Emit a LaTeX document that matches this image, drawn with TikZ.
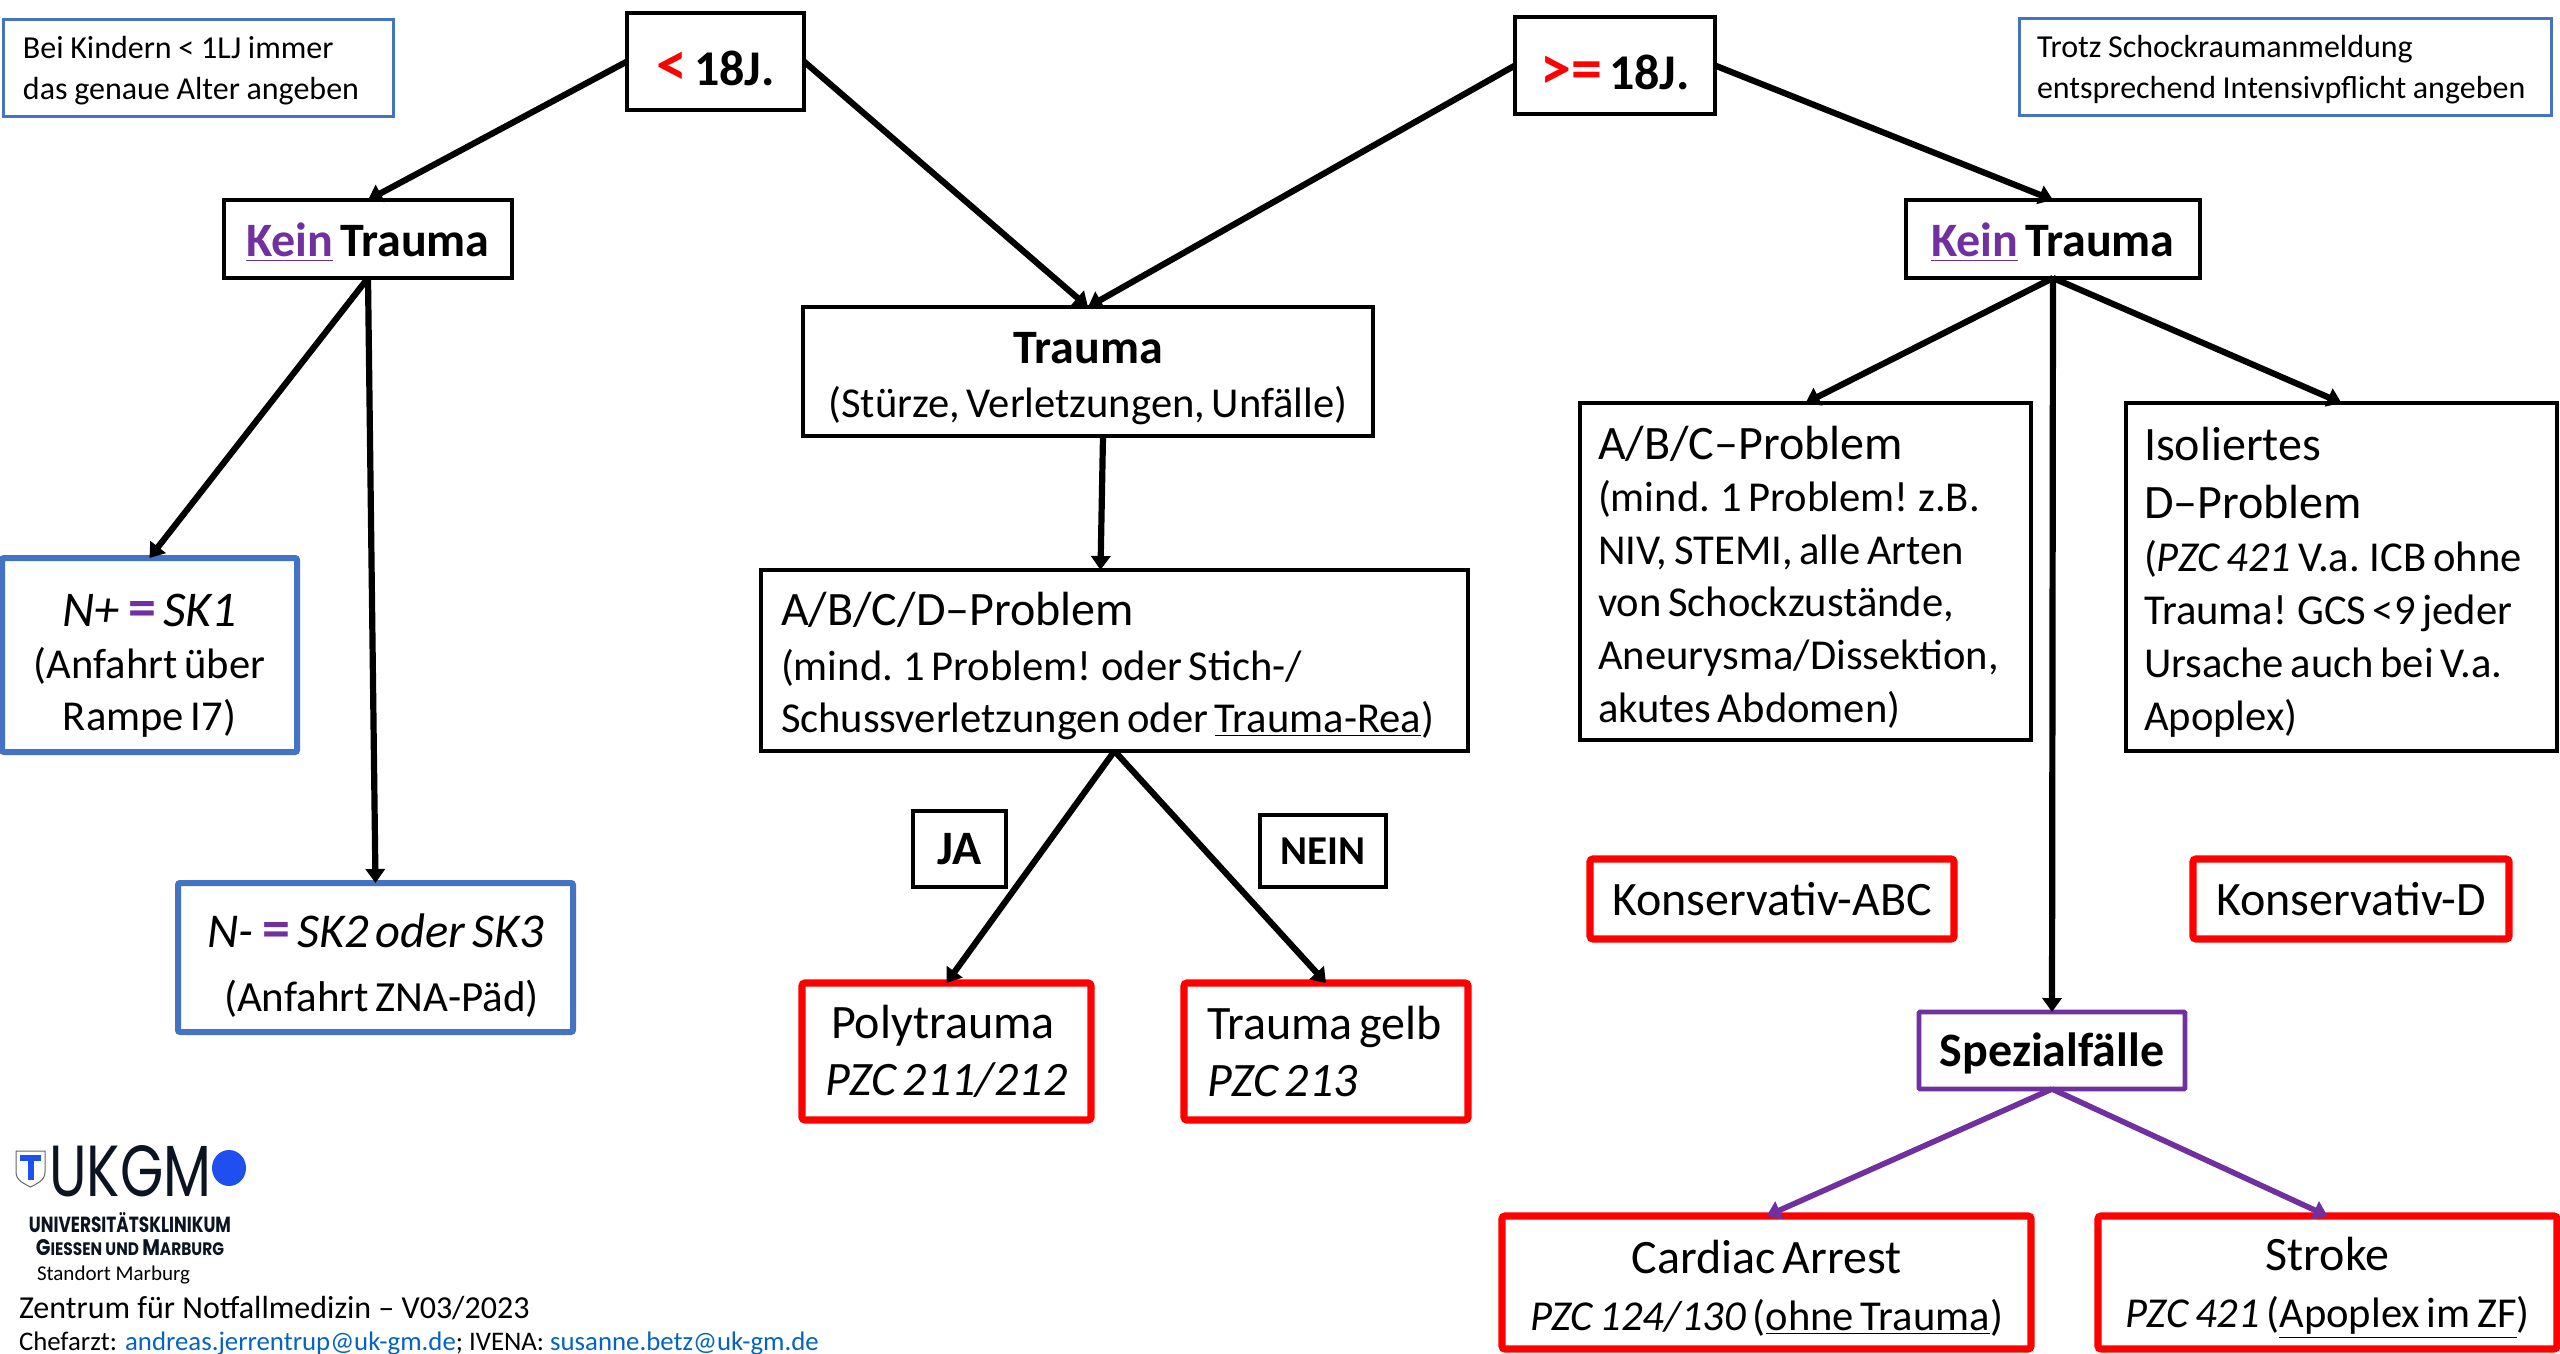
\documentclass[tikz,border=0pt]{standalone}
\usepackage{fontspec}
\setmainfont{Carlito}
\newfontfamily\logofont{Poppins}
\usetikzlibrary{arrows.meta,calc}
\definecolor{bluebox}{HTML}{4472C4}
\definecolor{violet}{HTML}{7030A0}
\definecolor{linkblue}{HTML}{0563C1}
\definecolor{logoblue}{HTML}{1F4FEF}
\definecolor{logoink}{HTML}{0B1420}
\newcommand{\fs}[2]{\fontsize{#1pt}{#2pt}\selectfont}
\newcommand{\kein}{\textcolor{violet}{\underline{Kein}}}
\newcommand{\eqv}{\hspace{4.5pt}\textcolor{violet}{\fontsize{28pt}{28pt}\selectfont\textbf{=}}\hspace{3.5pt}}
\newcommand{\tup}[1]{\rule{0pt}{#1pt}}
\newcommand{\bx}[7][]{%
  \pgfmathsetmacro\cxx{(#3+#5)/2}\pgfmathsetmacro\cyy{(#4+#6)/2}%
  \pgfmathsetmacro\ww{(#5-#3)*0.5}\pgfmathsetmacro\hh{(#6-#4)*0.5}%
  \node[minimum width=\ww pt,minimum height=\hh pt,text width=\ww pt,#1] (#2) at (\cxx,\cyy) {#7\par};}
\tikzset{
  x=0.5pt,y=-0.5pt,
  basebox/.style={inner sep=0pt,outer sep=0pt,fill=white,align=center},
  blackthick/.style={basebox,draw=black,line width=2.4pt},
  blackthin/.style={basebox,draw=black,line width=2pt},
  bluethin/.style={basebox,draw=bluebox,line width=1.5pt},
  bluethick/.style={basebox,draw=bluebox,line width=3pt,rounded corners=1pt},
  redbox/.style={basebox,draw=red,line width=3.6pt,rounded corners=1.5pt},
  purplebox/.style={basebox,draw=violet,line width=2.4pt,rounded corners=0.5pt},
  leftbox/.style={align=left},
  conn/.style={draw=black,line width=3.1pt,-{Triangle[length=7pt,width=9.5pt]}},
  connp/.style={draw=violet,line width=2.8pt,-{Triangle[length=7pt,width=9.5pt]}},
  plain/.style={inner sep=0pt,outer sep=0pt,anchor=west},
}
\begin{document}
\begin{tikzpicture}
\useasboundingbox (0,0) rectangle (2560,1354);

% notes
\bx[bluethin,leftbox]{noteL}{3}{20}{393}{117}
  {\leftskip=10pt\fs{16}{20.5}\tup{13}Bei Kindern < 1LJ immer\\das genaue Alter angeben}
\bx[bluethin,leftbox]{noteR}{2019}{19}{2551}{116}
  {\leftskip=9pt\fs{16}{20.5}\tup{13}Trotz Schockraumanmeldung\\entsprechend Intensivpflicht angeben}

% top
\bx[blackthick]{young}{627}{13}{804}{110}
  {\fs{25}{30}\bfseries\tup{24}\textcolor{red}{\fontsize{31pt}{30pt}\selectfont <} 18J.}
\bx[blackthick]{adult}{1515}{17}{1715}{114}
  {\fs{25}{30}\bfseries\tup{24}\textcolor{red}{\fontsize{31pt}{30pt}\selectfont >=} 18J.}
\bx[blackthick]{keinL}{224}{200}{512}{278}
  {\fs{24}{29}\bfseries\tup{20}\kein{} Trauma}
\bx[blackthick]{keinR}{1906}{200}{2200}{278}
  {\fs{24}{29}\bfseries\tup{20}\kein{} Trauma}

% middle column
\bx[blackthin]{trauma}{803}{307}{1373}{436}
  {\fs{24}{27}\tup{23}\textbf{Trauma}\\\fs{21.3}{27}(Stürze, Verletzungen, Unfälle)}
\bx[blackthin,leftbox]{abcd}{761}{570}{1468}{751}
  {\leftskip=10pt\fs{24}{28}\tup{22}A/B/C/D–Problem\\[1.5pt]\fs{21.3}{26}(mind. 1 Problem! oder Stich-/\\Schussverletzungen oder \underline{Trauma-Rea})}
\bx[blackthin]{ja}{913}{811}{1006}{887}{\fs{24}{26}\textbf{JA}}
\bx[blackthin]{nein}{1260}{815}{1386}{887}{\fs{20.5}{26}\textbf{NEIN}}
\bx[redbox,leftbox]{poly}{802}{983}{1091}{1120}
  {\leftskip=11.5pt\fs{24}{28.5}\hspace*{3pt}Polytrauma\\\textit{PZC 211/212}}
\bx[redbox,leftbox]{gelb}{1184}{983}{1468}{1120}
  {\leftskip=11.5pt\fs{24}{28.5}Trauma gelb\\\textit{PZC 213}}

% left column
\bx[bluethick]{nplus}{2}{558}{297}{752}
  {\fs{25}{30}\tup{27}\textit{N+}\eqv\textit{SK1}\\\fs{21.3}{26}(Anfahrt über\\Rampe I7)}
\bx[bluethick]{nminus}{178}{883}{573}{1032}
  {\fs{24.3}{30}\tup{25}\textit{N-}\eqv\textit{SK2 oder SK3}\\\fs{21.5}{32}\hspace*{6pt}(Anfahrt ZNA-Päd)}

% right column
\bx[blackthin,leftbox]{abc}{1580}{403}{2031}{740}
  {\leftskip=9pt\fs{24}{28}\tup{22}A/B/C–Problem\\\fs{21.3}{26.3}(mind. 1 Problem! z.B.\\NIV, STEMI, alle Arten\\von Schockzustände,\\Aneurysma/Dissektion,\\akutes Abdomen)}
\bx[blackthin,leftbox]{iso}{2126}{403}{2557}{751}
  {\leftskip=9pt\fs{24}{29}\tup{22}Isoliertes\\D–Problem\\\fs{21.3}{26.5}(\textit{PZC 421} V.a. ICB ohne\\Trauma! GCS <9 jeder\\Ursache auch bei V.a.\\Apoplex)}
\bx[redbox]{kabc}{1590}{859}{1954}{939}{\fs{24}{28}Konservativ-ABC}
\bx[redbox]{kd}{2193}{859}{2509}{939}{\fs{24}{28}Konservativ-D}
\bx[purplebox]{spez}{1919}{1012}{2185}{1089}{\fs{24}{28}\tup{20}\textbf{Spezialfälle}}
\bx[redbox]{cardiac}{1502}{1216}{2031}{1349}
  {\fs{24}{28}\tup{22}Cardiac Arrest\\\fs{21.3}{28.5}\textit{PZC 124/130} (\underline{ohne Trauma})}
\bx[redbox]{stroke}{2098}{1216}{2557}{1349}
  {\fs{24}{28}\tup{22}Stroke\\\fs{21.3}{28.5}\textit{PZC 421} (\underline{Apoplex im ZF})}

% connectors
\draw[conn] (young.west) -- (keinL.north);
\draw[conn] (young.east) -- (trauma.north);
\draw[conn] (adult.west) -- (trauma.north);
\draw[conn] (adult.east) -- (keinR.north);
\draw[conn] (keinL.south) -- (nplus.north);
\draw[conn] (keinL.south) -- (nminus.north);
\draw[conn] ([xshift=7.5pt]trauma.south) -- ([xshift=-7pt]abcd.north);
\draw[conn] (abcd.south) -- (poly.north);
\draw[conn] (abcd.south) -- (gelb.north);
\draw[conn] (keinR.south) -- (abc.north);
\draw[conn] (keinR.south) -- (iso.north);
\draw[conn] (keinR.south) -- (spez.north);
\draw[connp] (spez.south) -- (cardiac.north);
\draw[connp] (spez.south) -- (stroke.north);

% logo
\draw[draw=black!60,line width=0.5pt,fill=white]
  (16,1151) -- (45,1151) -- (45,1172) .. controls (45,1181) and (36,1184) .. (30.5,1187) .. controls (25,1184) and (16,1181) .. (16,1172) -- cycle;
\fill[logoblue] (20,1155) rectangle (41,1161);
\fill[logoblue] (27.5,1155) rectangle (33.5,1180);
\node[inner sep=0pt,anchor=north west] (ukgm) at (49,1145)
  {\resizebox{81pt}{25.5pt}{\logofont\color{logoink}UKGM}};
\fill[logoblue] (229,1168) ellipse (17 and 18);
\node[inner sep=0pt] (uni) at (130,1223)
  {\resizebox{101pt}{10pt}{\logofont\bfseries\color{logoink}UNIVERSITÄTSKLINIKUM}};
\node[inner sep=0pt] (giessen) at (130,1248)
  {\resizebox{94pt}{8pt}{\logofont\bfseries\color{logoink}G{\fontsize{8}{8}\selectfont IESSEN UND }M{\fontsize{8}{8}\selectfont ARBURG}}};
\node[plain] (standort) at (37,1275) {\fs{10.5}{12}Standort Marburg};
\node[plain] (zentrum) at (19,1308) {\fs{16}{20}Zentrum für Notfallmedizin – V03/2023};
\node[plain] (chef) at (19,1343)
  {\fs{13.4}{18}Chefarzt: \textcolor{linkblue}{andreas.jerrentrup@uk-gm.de}; IVENA: \textcolor{linkblue}{susanne.betz@uk-gm.de}};
\end{tikzpicture}
\end{document}
